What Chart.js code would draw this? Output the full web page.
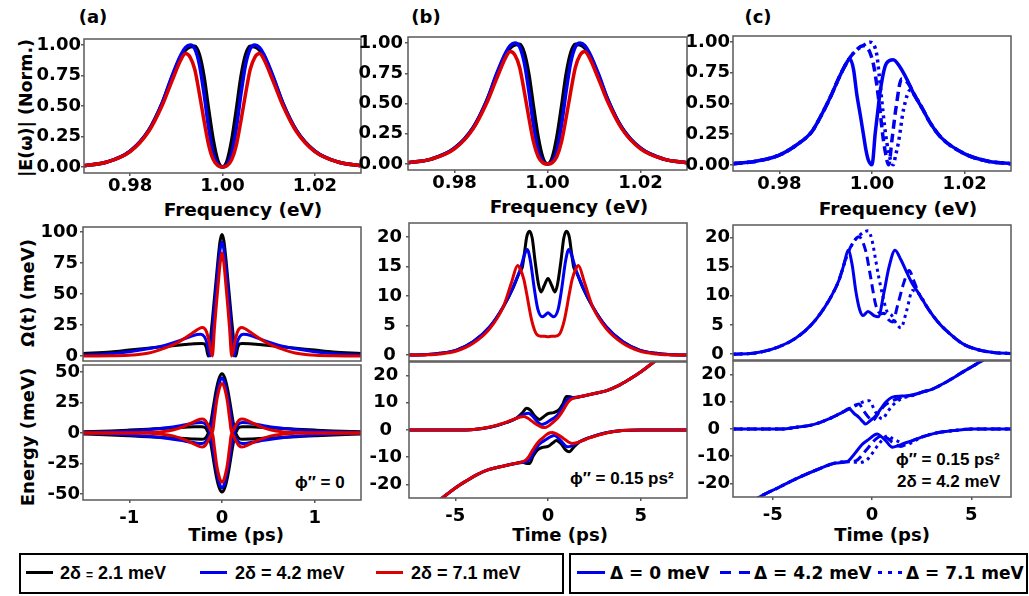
<!DOCTYPE html>
<html>
<head>
<meta charset="utf-8">
<script src="https://cdn.jsdelivr.net/npm/chart.js@4.4.0/dist/chart.umd.min.js"></script>
<style>
  body { margin: 0; background: #fff; }
  #page { position: relative; width: 1029px; height: 596px; overflow: hidden; background: #fff; }
  .box { position: absolute; }
  .lbl { position: absolute; font-family: 'DejaVu Sans', sans-serif; font-weight: bold; color: #000;
         white-space: nowrap; line-height: 1; transform: translate(-50%, -50%); }
  .rot { transform: translate(-50%, -50%) rotate(-90deg); }
  .note { position: absolute; font-family: 'Liberation Sans', Arial, sans-serif; font-weight: bold;
          font-size: 17px; color: #000; white-space: nowrap; line-height: 1; transform: translateY(-50%); }
  .leg { position: absolute; border: 2px solid #000; box-sizing: border-box; }
  .key { position: absolute; height: 0; }
  .dot { position: absolute; width: 4px; height: 3px; background: #0000f0; }
  .t1 { font-family: 'Liberation Sans', Arial, sans-serif; font-size: 18px; }
  .t2 { font-family: 'DejaVu Sans', sans-serif; font-size: 17px; }
</style>
</head>
<body>
<div id="page">
  <div class="lbl" style="left:93px;top:17px;font-size:18px">(a)</div>
  <div class="lbl" style="left:426px;top:17px;font-size:18px">(b)</div>
  <div class="lbl" style="left:758px;top:17px;font-size:18px">(c)</div>

  <div class="lbl rot" style="left:27px;top:108px;font-size:17.5px">|E(ω)| (Norm.)</div>
  <div class="lbl rot" style="left:28px;top:293px;font-size:18px">Ω(t) (meV)</div>
  <div class="lbl rot" style="left:28px;top:437px;font-size:18px">Energy (meV)</div>

  <div class="lbl" style="left:243px;top:210px;font-size:18.5px">Frequency (eV)</div>
  <div class="lbl" style="left:569px;top:207px;font-size:18.5px">Frequency (eV)</div>
  <div class="lbl" style="left:898px;top:209px;font-size:18.5px">Frequency (eV)</div>

  <div class="lbl" style="left:236px;top:535px;font-size:18px">Time (ps)</div>
  <div class="lbl" style="left:560px;top:535px;font-size:18px">Time (ps)</div>
  <div class="lbl" style="left:882px;top:535px;font-size:18px">Time (ps)</div>

  <div class="note" style="left:295px;top:482px">ϕ″ = 0</div>
  <div class="note" style="left:570px;top:478px">ϕ″ = 0.15 ps²</div>
  <div class="note" style="left:896px;top:459px">ϕ″ = 0.15 ps²</div>
  <div class="note" style="left:897px;top:481px">2δ = 4.2 meV</div>

  <div class="leg" style="left:19px;top:553px;width:545px;height:41px"></div>
  <div class="key" style="left:26px;top:571px;width:27px;border-top:3px solid #000"></div>
  <div class="note t1" style="left:60px;top:573px">2δ <span style="font-size:12px">=</span> 2.1 meV</div>
  <div class="key" style="left:200px;top:571px;width:27px;border-top:3px solid #0000f0"></div>
  <div class="note t1" style="left:235px;top:573px">2δ = 4.2 meV</div>
  <div class="key" style="left:376px;top:571px;width:27px;border-top:3px solid #dd0000"></div>
  <div class="note t1" style="left:411px;top:573px">2δ = 7.1 meV</div>

  <div class="leg" style="left:569px;top:553px;width:459px;height:41px"></div>
  <div class="key" style="left:577px;top:571px;width:28px;border-top:3px solid #0000f0"></div>
  <div class="note t2" style="left:610px;top:573px">Δ = 0 meV</div>
  <div class="key" style="left:720px;top:571px;width:11px;border-top:3px solid #0000f0"></div>
  <div class="key" style="left:739px;top:571px;width:11px;border-top:3px solid #0000f0"></div>
  <div class="note t2" style="left:754px;top:573px">Δ = 4.2 meV</div>
  <div class="dot" style="left:878px;top:571px"></div>
  <div class="dot" style="left:888px;top:571px"></div>
  <div class="dot" style="left:898px;top:571px"></div>
  <div class="note t2" style="left:906px;top:573px">Δ = 7.1 meV</div>
</div>
<script>
// tick positions
const freqTicks = [0.98, 1.00, 1.02];
const normTicks = [0, 0.25, 0.5, 0.75, 1.0];
const timeTicksA = [-1, 0, 1];
const timeTicksBC = [-5, 0, 5];
const omegaTicksA = [0, 25, 50, 75, 100];
const omegaTicksBC = [0, 5, 10, 15, 20];
const energyTicksA = [-50, -25, 0, 25, 50];
const energyTicksBC = [-20, -10, 0, 10, 20];

// |E(w)| spectra, panels (a) and (b)
const specFreq = [0.970, 0.975, 0.980, 0.984, 0.987, 0.989, 0.991, 0.992, 0.993, 0.994, 0.995, 0.996, 0.997, 0.998, 0.999, 1.000,
  1.001, 1.002, 1.003, 1.004, 1.005, 1.006, 1.007, 1.008, 1.009, 1.011, 1.013, 1.016, 1.020, 1.025, 1.030];
const specBlack = [0.01, 0.04, 0.13, 0.30, 0.53, 0.73, 0.91, 0.96, 0.985, 0.99, 0.92, 0.74, 0.47, 0.22, 0.05, 0.00,
  0.05, 0.22, 0.47, 0.74, 0.92, 0.99, 0.985, 0.96, 0.91, 0.73, 0.53, 0.30, 0.13, 0.04, 0.01];
const specBlue = [0.01, 0.04, 0.13, 0.30, 0.53, 0.74, 0.92, 0.98, 1.00, 0.97, 0.84, 0.60, 0.32, 0.11, 0.02, 0.00,
  0.02, 0.11, 0.32, 0.60, 0.84, 0.97, 1.00, 0.98, 0.92, 0.74, 0.53, 0.30, 0.13, 0.04, 0.01];
const specRed = [0.01, 0.04, 0.125, 0.29, 0.51, 0.70, 0.88, 0.93, 0.90, 0.80, 0.60, 0.38, 0.18, 0.06, 0.01, 0.00,
  0.01, 0.06, 0.18, 0.38, 0.60, 0.80, 0.90, 0.93, 0.88, 0.70, 0.51, 0.29, 0.125, 0.04, 0.01];

// |E(w)| spectra, panel (c)
const specSolidF = [0.970, 0.975, 0.980, 0.984, 0.987, 0.989, 0.991, 0.993, 0.9945, 0.9952, 0.996, 0.9967, 0.9975, 0.9981, 0.9987, 0.9992,
  1.000, 1.0007, 1.0012, 1.0017, 1.0028, 1.0038, 1.0046, 1.006, 1.0075, 1.009, 1.011, 1.0126, 1.015, 1.020, 1.025, 1.030];
const specSolid = [0.01, 0.03, 0.08, 0.17, 0.27, 0.40, 0.55, 0.72, 0.83, 0.865, 0.78, 0.58, 0.40, 0.26, 0.12, 0.04,
  0.00, 0.26, 0.42, 0.58, 0.80, 0.85, 0.857, 0.80, 0.70, 0.58, 0.45, 0.34, 0.22, 0.09, 0.03, 0.01];
const specDashF = [0.970, 0.975, 0.980, 0.984, 0.987, 0.989, 0.991, 0.993, 0.9945, 0.996, 0.9981, 0.9988, 0.9995, 1.0003, 1.001,
  1.0017, 1.0023, 1.0028, 1.0036, 1.0043, 1.0052, 1.0064, 1.0079, 1.009, 1.011, 1.0126, 1.015, 1.020, 1.025, 1.030];
const specDash = [0.01, 0.03, 0.08, 0.17, 0.27, 0.40, 0.55, 0.72, 0.83, 0.91, 0.97, 0.96, 0.92, 0.82, 0.66,
  0.45, 0.25, 0.12, 0.00, 0.20, 0.47, 0.70, 0.66, 0.58, 0.45, 0.34, 0.22, 0.09, 0.03, 0.01];
const specDotF = [0.970, 0.975, 0.980, 0.984, 0.987, 0.989, 0.991, 0.993, 0.9945, 0.996, 0.998, 0.9996, 1.001, 1.0015, 1.0021,
  1.0027, 1.0032, 1.004, 1.0046, 1.0051, 1.0057, 1.0068, 1.0083, 1.009, 1.011, 1.0126, 1.015, 1.020, 1.025, 1.030];
const specDot = [0.01, 0.03, 0.08, 0.17, 0.27, 0.40, 0.55, 0.72, 0.83, 0.91, 0.97, 1.00, 0.905, 0.75, 0.53,
  0.32, 0.18, 0.04, 0.00, 0.08, 0.18, 0.45, 0.61, 0.58, 0.45, 0.34, 0.22, 0.09, 0.03, 0.01];

// Rabi frequency, panel (a)
const omABlackT = [-1.5, -1.2, -1.0, -0.8, -0.6, -0.4, -0.3, -0.22, -0.19, -0.17, -0.148, -0.12, -0.1, -0.08, -0.06, -0.04, -0.02, 0,
  0.02, 0.04, 0.06, 0.08, 0.1, 0.12, 0.148, 0.17, 0.19, 0.22, 0.3, 0.4, 0.6, 0.8, 1.0, 1.2, 1.5];
const omABlack = [2.0, 3.3, 4.8, 6.3, 7.8, 9.3, 10.0, 10.2, 9.8, 7.0, 0, 17, 32, 48, 64, 80, 93, 98,
  93, 80, 64, 48, 32, 17, 0, 7.0, 9.8, 10.2, 10.0, 9.3, 7.8, 6.3, 4.8, 3.3, 2.0];
const omABlueT = [-1.5, -1.25, -1.0, -0.8, -0.6, -0.45, -0.35, -0.27, -0.23, -0.19, -0.16, -0.13, -0.1, -0.08, -0.06, -0.04, -0.02, 0,
  0.02, 0.04, 0.06, 0.08, 0.1, 0.13, 0.16, 0.19, 0.23, 0.27, 0.35, 0.45, 0.6, 0.8, 1.0, 1.25, 1.5];
const omABlue = [0.8, 1.7, 3.5, 5.8, 9.0, 12.5, 15.5, 17.3, 17.5, 15.5, 10, 0, 22, 40, 57, 73, 86, 92,
  86, 73, 57, 40, 22, 0, 10, 15.5, 17.5, 17.3, 15.5, 12.5, 9.0, 5.8, 3.5, 1.7, 0.8];
const omARedT = [-1.5, -1.2, -0.97, -0.79, -0.61, -0.5, -0.39, -0.3, -0.25, -0.21, -0.17, -0.14, -0.105, -0.08, -0.06, -0.04, -0.02, 0,
  0.02, 0.04, 0.06, 0.08, 0.105, 0.14, 0.17, 0.21, 0.25, 0.3, 0.39, 0.5, 0.61, 0.79, 0.97, 1.2, 1.5];
const omARed = [0, 0.2, 0.8, 2.4, 6.7, 10, 15, 19.5, 22, 23, 20, 12, 0, 24, 42, 59, 75, 83,
  75, 59, 42, 24, 0, 12, 20, 23, 22, 19.5, 15, 10, 6.7, 2.4, 0.8, 0.2, 0];

// dressed-state energies, panel (a)
const enABlackT = [-1.5, -1.2, -1.0, -0.8, -0.6, -0.4, -0.3, -0.22, -0.19, -0.17, -0.148, -0.12, -0.09, -0.06, -0.03, 0,
  0.03, 0.06, 0.09, 0.12, 0.148, 0.17, 0.19, 0.22, 0.3, 0.4, 0.6, 0.8, 1.0, 1.2, 1.5];
const enABlackUp = [0.9, 1.6, 2.3, 3.1, 3.9, 4.6, 5.0, 5.1, 4.8, 3.5, 0.5, 9, 23, 36, 45, 48.5,
  45, 36, 23, 9, 0.5, 3.5, 4.8, 5.1, 5.0, 4.6, 3.9, 3.1, 2.3, 1.6, 0.9];
const enABlackDn = [-0.9, -1.6, -2.3, -3.1, -3.9, -4.6, -5.0, -5.1, -4.8, -3.5, -0.5, -9, -23, -36, -45, -48.5,
  -45, -36, -23, -9, -0.5, -3.5, -4.8, -5.1, -5.0, -4.6, -3.9, -3.1, -2.3, -1.6, -0.9];
const enABlueT = [-1.5, -1.2, -1.0, -0.8, -0.6, -0.45, -0.35, -0.27, -0.22, -0.18, -0.15, -0.13, -0.1, -0.075, -0.05, -0.025, 0,
  0.025, 0.05, 0.075, 0.1, 0.13, 0.15, 0.18, 0.22, 0.27, 0.35, 0.45, 0.6, 0.8, 1.0, 1.2, 1.5];
const enABlueUp = [0.4, 0.9, 1.6, 2.7, 4.3, 6.0, 7.4, 8.4, 8.6, 7.5, 4.5, 0.5, 12, 24, 34, 42, 45,
  42, 34, 24, 12, 0.5, 4.5, 7.5, 8.6, 8.4, 7.4, 6.0, 4.3, 2.7, 1.6, 0.9, 0.4];
const enABlueDn = [-0.4, -0.9, -1.6, -2.7, -4.3, -6.0, -7.4, -8.4, -8.6, -7.5, -4.5, -0.5, -12, -24, -34, -42, -45,
  -42, -34, -24, -12, -0.5, -4.5, -7.5, -8.6, -8.4, -7.4, -6.0, -4.3, -2.7, -1.6, -0.9, -0.4];
const enARedT = [-1.5, -1.0, -0.8, -0.65, -0.53, -0.45, -0.39, -0.3, -0.24, -0.21, -0.18, -0.15, -0.125, -0.105, -0.08, -0.06, -0.04, -0.02, 0,
  0.02, 0.04, 0.06, 0.08, 0.105, 0.125, 0.15, 0.18, 0.21, 0.24, 0.3, 0.39, 0.45, 0.53, 0.65, 0.8, 1.0, 1.5];
const enARedUp = [0, 0, 0.3, 1.0, 2.4, 4.2, 6.0, 9.2, 11.2, 11.5, 10.2, 6.5, 2.5, 0.5, 13, 25, 33, 38.5, 40.5,
  38.5, 33, 25, 13, 0.5, 2.5, 6.5, 10.2, 11.5, 11.2, 9.2, 6.0, 4.2, 2.4, 1.0, 0.3, 0, 0];
const enARedDn = [0, 0, -0.3, -1.0, -2.4, -4.2, -6.0, -9.2, -11.2, -11.5, -10.2, -6.5, -2.5, -0.5, -13, -25, -33, -38.5, -40.5,
  -38.5, -33, -25, -13, -0.5, -2.5, -6.5, -10.2, -11.5, -11.2, -9.2, -6.0, -4.2, -2.4, -1.0, -0.3, 0, 0];

// Rabi frequency, panel (b)
const omBBlackT = [-7.5, -6.5, -5.84, -4.94, -4.04, -3.14, -2.41, -1.87, -1.6, -1.5, -1.38, -1.25, -1.15, -1.0, -0.85, -0.7, -0.52, -0.38, -0.2, 0,
  0.2, 0.38, 0.52, 0.7, 0.85, 1.0, 1.15, 1.25, 1.38, 1.5, 1.6, 1.87, 2.41, 3.14, 4.04, 4.94, 5.84, 6.5, 7.5];
const omBBlack = [0, 0.1, 0.3, 0.85, 2.25, 4.8, 8.2, 11.5, 13.6, 14.2, 15.0, 17.8, 20, 21, 19.8, 16, 12.1, 10.7, 11.8, 13,
  11.8, 10.7, 12.1, 16, 19.8, 21, 20, 17.8, 15.0, 14.2, 13.6, 11.5, 8.2, 4.8, 2.25, 0.85, 0.3, 0.1, 0];
const omBBlueT = [-7.5, -6.5, -5.84, -4.94, -4.04, -3.14, -2.41, -1.87, -1.5, -1.25, -1.12, -0.95, -0.75, -0.55, -0.3, -0.15, 0,
  0.15, 0.3, 0.55, 0.75, 0.95, 1.12, 1.25, 1.5, 1.87, 2.41, 3.14, 4.04, 4.94, 5.84, 6.5, 7.5];
const omBBlue = [0, 0.1, 0.3, 0.85, 2.25, 4.8, 8.2, 11.6, 14.5, 17.2, 17.9, 16.0, 11.5, 7.8, 6.5, 6.8, 7.2,
  6.8, 6.5, 7.8, 11.5, 16.0, 17.9, 17.2, 14.5, 11.6, 8.2, 4.8, 2.25, 0.85, 0.3, 0.1, 0];
const omBRedT = [-7.5, -6.5, -5.84, -4.94, -4.04, -3.14, -2.41, -1.96, -1.64, -1.5, -1.3, -1.15, -0.88, -0.61, -0.4, -0.2, 0,
  0.2, 0.4, 0.61, 0.88, 1.15, 1.3, 1.5, 1.64, 1.96, 2.41, 3.14, 4.04, 4.94, 5.84, 6.5, 7.5];
const omBRed = [0, 0.05, 0.2, 0.7, 2.0, 4.5, 8.2, 12.4, 15.2, 14.6, 12.8, 10.4, 5.9, 3.5, 3.2, 3.2, 3.1,
  3.2, 3.2, 3.5, 5.9, 10.4, 12.8, 14.6, 15.2, 12.4, 8.2, 4.5, 2.0, 0.7, 0.2, 0.05, 0];

// dressed-state energies, panel (b)
const enBBlackUpT = [-7.5, -5.0, -4.0, -3.14, -2.23, -1.69, -1.4, -1.15, -0.95, -0.7, -0.45, -0.25, 0, 0.3, 0.55, 0.8, 1.0, 1.2, 1.4, 1.7, 1.91,
  2.5, 3.17, 3.8, 4.43, 5.0, 5.69, 6.2];
const enBBlackUp = [0, 0, 0.2, 1.0, 2.8, 4.4, 6.2, 8.0, 7.3, 5.0, 3.9, 4.8, 6.0, 6.4, 7.2, 9.6, 12.3, 12.2, 11.8, 12.2, 12.5,
  13.4, 14.5, 16.3, 18.8, 21.3, 24.9, 27.6];
const enBBlackDnT = [-6.2, -5.69, -5.0, -4.43, -3.8, -3.17, -2.5, -1.91, -1.7, -1.4, -1.2, -1.0, -0.8, -0.55, -0.3, 0, 0.25, 0.45, 0.7, 0.95,
  1.15, 1.4, 1.69, 2.23, 3.14, 4.0, 5.0, 7.5];
const enBBlackDn = [-27.6, -24.9, -21.3, -18.8, -16.3, -14.5, -13.4, -12.5, -12.2, -11.8, -12.2, -12.3, -9.6, -7.2, -6.4, -6.0, -4.8, -3.9, -5.0, -7.3,
  -8.0, -6.2, -4.4, -2.8, -1.0, -0.2, 0, 0];
const enBBlueUpT = [-7.5, -5.0, -4.0, -3.14, -2.23, -1.69, -1.35, -1.05, -0.8, -0.5, -0.35, -0.15, 0.1, 0.3, 0.55, 0.8, 1.0, 1.2, 1.5, 1.91,
  2.5, 3.17, 3.8, 4.43, 5.0, 5.69, 6.2];
const enBBlueUp = [0, 0, 0.2, 1.0, 2.8, 4.4, 5.6, 6.2, 4.8, 2.6, 2.0, 2.4, 3.5, 4.3, 5.8, 8.5, 10.9, 11.8, 12.0, 12.5,
  13.4, 14.5, 16.3, 18.8, 21.3, 24.9, 27.6];
const enBBlueDnT = [-6.2, -5.69, -5.0, -4.43, -3.8, -3.17, -2.5, -1.91, -1.5, -1.2, -1.0, -0.8, -0.55, -0.3, -0.1, 0.15, 0.35, 0.5, 0.8, 1.05,
  1.35, 1.69, 2.23, 3.14, 4.0, 5.0, 7.5];
const enBBlueDn = [-27.6, -24.9, -21.3, -18.8, -16.3, -14.5, -13.4, -12.5, -12.0, -11.8, -10.9, -8.5, -5.8, -4.3, -3.5, -2.4, -2.0, -2.6, -4.8, -6.2,
  -5.6, -4.4, -2.8, -1.0, -0.2, 0, 0];
const enBRedUpT = [-7.5, -5.0, -4.0, -3.14, -2.6, -2.23, -1.9, -1.5, -1.3, -1.1, -0.8, -0.5, -0.25, -0.1, 0.1, 0.3, 0.5, 0.7, 0.9, 1.1,
  1.3, 1.6, 1.91, 2.5, 3.17, 3.8, 4.43, 5.0, 5.69, 6.2];
const enBRedUp = [0, 0, 0.2, 1.1, 2.1, 2.9, 3.8, 4.8, 5.0, 4.4, 2.9, 1.6, 0.9, 1.0, 1.8, 3.0, 4.2, 6.0, 8.2, 10.4,
  11.5, 12.1, 12.5, 13.4, 14.5, 16.3, 18.8, 21.3, 24.9, 27.6];
const enBRedDnT = [-6.2, -5.69, -5.0, -4.43, -3.8, -3.17, -2.5, -1.91, -1.6, -1.3, -1.1, -0.9, -0.7, -0.5, -0.3, -0.1, 0.1, 0.25, 0.5, 0.8,
  1.1, 1.3, 1.5, 1.9, 2.23, 2.6, 3.14, 4.0, 5.0, 7.5];
const enBRedDn = [-27.6, -24.9, -21.3, -18.8, -16.3, -14.5, -13.4, -12.5, -12.1, -11.5, -10.4, -8.2, -6.0, -4.2, -3.0, -1.8, -1.0, -0.9, -1.6, -2.9,
  -4.4, -5.0, -4.8, -3.8, -2.9, -2.1, -1.1, -0.2, 0, 0];

// Rabi frequency, panel (c)
const omCSolidT = [-7, -6, -5.54, -4.7, -3.86, -3.01, -2.17, -1.67, -1.4, -1.2, -1.0, -0.82, -0.62, -0.45, -0.2, 0.1, 0.32, 0.6, 0.85, 1.16,
  1.45, 1.75, 2.04, 2.37, 2.88, 3.3, 3.72, 4.56, 5.4, 6.2, 7];
const omCSolid = [0, 0.15, 0.4, 1.25, 2.7, 5.2, 9.2, 12.6, 15.5, 17.8, 15.3, 10.9, 7.6, 6.6, 7.3, 6.6, 6.4, 10.5, 14.8, 17.8,
  16.2, 14.0, 12.0, 10.3, 7.5, 5.6, 4.1, 1.8, 0.7, 0.25, 0.1];
const omCDashT = [-7, -6, -5.54, -4.7, -3.86, -3.01, -2.17, -1.67, -1.3, -1.0, -0.66, -0.32, -0.07, 0.19, 0.45, 0.6, 0.86, 1.03, 1.3, 1.6,
  1.87, 2.1, 2.37, 2.88, 3.3, 3.72, 4.56, 5.4, 6.2, 7];
const omCDash = [0, 0.15, 0.4, 1.25, 2.7, 5.2, 9.2, 12.6, 16.6, 18.8, 20.1, 17.7, 13.2, 8.4, 6.9, 7.0, 5.8, 5.5, 8.5, 12.2,
  14.3, 12.6, 10.3, 7.5, 5.6, 4.1, 1.8, 0.7, 0.25, 0.1];
const omCDotT = [-7, -6, -5.54, -4.7, -3.86, -3.01, -2.17, -1.67, -1.2, -0.9, -0.6, -0.35, -0.19, 0.0, 0.19, 0.35, 0.52, 0.77, 0.95, 1.2,
  1.45, 1.75, 2.04, 2.37, 2.88, 3.3, 3.72, 4.56, 5.4, 6.2, 7];
const omCDot = [0, 0.15, 0.4, 1.25, 2.7, 5.2, 9.2, 12.6, 17.4, 19.3, 20.4, 21.0, 21.1, 19.5, 16.0, 13.0, 10.3, 7.2, 6.8, 5.4,
  4.5, 7.5, 10.9, 10.3, 7.5, 5.6, 4.1, 1.8, 0.7, 0.25, 0.1];

// dressed-state energies, panel (c)
const enCSolidUpT = [-7, -4.5, -3.86, -3.01, -2.17, -1.5, -1.16, -0.9, -0.66, -0.45, -0.32, -0.1, 0.19, 0.45, 0.69, 1.03, 1.5, 2.04, 2.5, 3.05,
  3.72, 4.56, 5.57, 6.1];
const enCSolidUp = [0, 0, 0.6, 1.5, 3.7, 6.1, 7.4, 5.7, 4.3, 2.6, 1.8, 3.0, 4.9, 7.5, 9.8, 11.7, 12.1, 12.5, 13.5, 14.7,
  17.2, 20.9, 25.2, 27.5];
const enCSolidDnT = [-6.1, -5.54, -4.7, -3.86, -2.68, -1.84, -1.25, -1.03, -0.82, -0.5, -0.15, 0.1, 0.27, 0.5, 0.69, 1.03, 1.3, 1.6, 2.04, 2.5,
  3.05, 3.5, 4.06, 5.07, 7];
const enCSolidDn = [-27.0, -24.5, -21.5, -18.4, -14.7, -12.5, -12.0, -10.5, -8.6, -5.7, -3.7, -2.3, -1.8, -3.0, -4.3, -6.7, -6.2, -5.3, -4.3, -3.0,
  -1.8, -1.1, -0.6, 0, 0];
const enCDashUpT = [-7, -4.5, -3.86, -3.01, -2.17, -1.5, -1.16, -0.9, -0.66, -0.45, -0.24, 0.02, 0.35, 0.6, 0.86, 1.36, 2.04, 2.5, 3.05, 3.72,
  4.56, 5.57, 6.1];
const enCDashUp = [0, 0, 0.6, 1.5, 3.7, 6.1, 7.4, 8.6, 9.2, 7.0, 4.9, 3.1, 6.1, 8.4, 9.8, 11.3, 12.5, 13.5, 14.7, 17.2,
  20.9, 25.2, 27.5];
const enCDashDnT = [-6.1, -5.54, -4.7, -3.86, -2.68, -1.84, -1.25, -0.82, -0.32, 0.19, 0.52, 0.8, 1.03, 1.45, 1.75, 2.04, 2.5, 3.05, 3.5, 4.06,
  5.07, 7];
const enCDashDn = [-27.0, -24.5, -21.5, -18.4, -14.7, -12.5, -12.0, -11.7, -8.0, -3.7, -2.5, -3.5, -4.9, -6.4, -5.5, -4.3, -3.0, -1.8, -1.1, -0.6,
  0, 0];
const enCDotUpT = [-7, -4.5, -3.86, -3.01, -2.17, -1.5, -1.16, -0.9, -0.5, -0.15, 0.19, 0.52, 0.8, 1.03, 1.4, 1.7, 2.2, 2.5, 3.05, 3.72,
  4.56, 5.57, 6.1];
const enCDotUp = [0, 0, 0.6, 1.5, 3.7, 6.1, 7.4, 8.3, 9.8, 10.4, 6.1, 3.7, 6.5, 8.6, 10.8, 11.7, 12.6, 13.5, 14.7, 17.2,
  20.9, 25.2, 27.5];
const enCDotDnT = [-6.1, -5.54, -4.7, -3.86, -2.68, -1.84, -1.25, -0.66, -0.3, -0.07, 0.35, 0.77, 1.05, 1.36, 1.7, 2.0, 2.4, 3.05, 3.5, 4.06,
  5.07, 7];
const enCDotDn = [-27.0, -24.5, -21.5, -18.4, -14.7, -12.5, -12.0, -12.3, -11.6, -9.8, -5.5, -2.5, -3.6, -4.7, -5.9, -5.0, -3.3, -1.8, -1.1, -0.6,
  0, 0];

const BLACK = '#000000';
const BLUE = '#0000f0';
const RED = '#dd0000';
const DASH = [9, 5];
const DOT = [3, 4];

const pts = (xs, ys) => xs.map((x, i) => ({ x: x, y: ys[i] }));

const curve = (xs, ys, color, order, dash, width) => ({
  data: pts(xs, ys),
  borderColor: color,
  borderWidth: width || 3,
  borderDash: dash || [],
  borderCapStyle: 'butt',
  pointRadius: 0,
  cubicInterpolationMode: 'monotone',
  fill: false,
  clip: 0,
  order: order
});

// grey box round each plot area
const frame = {
  id: 'frame',
  afterDraw(chart) {
    const { ctx, chartArea: a } = chart;
    ctx.save();
    ctx.strokeStyle = '#5a5a5a';
    ctx.lineWidth = 1.5;
    ctx.strokeRect(a.left, a.top, a.right - a.left, a.bottom - a.top);
    ctx.restore();
  }
};

const tickFont = { family: 'DejaVu Sans', weight: 'bold', size: 18 };
const fixed2 = (v) => Number(v).toFixed(2);
const plain = (v) => String(v);

function panel(p) {
  const [L, T, R, B] = p.box;
  const xh = p.xTicks ? p.xh : 2;
  const w = R - L + 90;
  const h = B - T + 10 + xh;

  const div = document.createElement('div');
  div.className = 'box';
  div.style.left = (L - 80) + 'px';
  div.style.top = (T - 10) + 'px';
  const canvas = document.createElement('canvas');
  canvas.width = w;
  canvas.height = h;
  div.appendChild(canvas);
  document.getElementById('page').appendChild(div);

  new Chart(canvas.getContext('2d'), {
    type: 'line',
    data: { datasets: p.datasets },
    options: {
      responsive: false,
      animation: false,
      events: [],
      layout: { padding: { left: 0, top: 10, right: 10, bottom: 0 } },
      plugins: { legend: { display: false }, tooltip: { enabled: false } },
      scales: {
        x: {
          type: 'linear',
          min: p.xRange[0],
          max: p.xRange[1],
          afterBuildTicks: (s) => { s.ticks = (p.xTicks || []).map((v) => ({ value: v })); },
          afterFit: (s) => { s.height = xh; s.paddingLeft = 0; s.paddingRight = 0; },
          grid: { display: !!p.xTicks, drawOnChartArea: false, tickLength: 3, color: '#5a5a5a', lineWidth: 1.5 },
          border: { display: false },
          ticks: {
            display: !!p.xTicks, autoSkip: false, maxRotation: 0, padding: p.xPad || 0,
            color: '#000', font: tickFont, callback: (v) => p.xFmt(v)
          }
        },
        y: {
          type: 'linear',
          min: p.yRange[0],
          max: p.yRange[1],
          afterBuildTicks: (s) => { s.ticks = p.yTicks.map((v) => ({ value: v })); },
          afterFit: (s) => { s.width = 80; s.paddingTop = 0; s.paddingBottom = 0; },
          grid: { drawOnChartArea: false, tickLength: 3, color: '#5a5a5a', lineWidth: 1.5 },
          border: { display: false },
          ticks: {
            autoSkip: false, padding: p.yPad, crossAlign: p.cross || 'near',
            color: '#000', font: tickFont, callback: (v) => p.yFmt(v)
          }
        }
      }
    },
    plugins: [frame]
  });
}

const specSets = () => [
  curve(specFreq, specBlack, BLACK, 3, null, 3.5),
  curve(specFreq, specBlue, BLUE, 2, null, 3.5),
  curve(specFreq, specRed, RED, 1, null, 3.5)
];

// top row: spectra
panel({ box: [84, 39, 361, 173], xRange: [0.97, 1.03], yRange: [-0.05, 1.05], xTicks: freqTicks, yTicks: normTicks,
  xFmt: fixed2, yFmt: fixed2, xh: 30, xPad: 0, yPad: 0, datasets: specSets() });
panel({ box: [408, 37, 687, 170], xRange: [0.97, 1.03], yRange: [-0.05, 1.05], xTicks: freqTicks, yTicks: normTicks,
  xFmt: fixed2, yFmt: fixed2, xh: 30, xPad: 0, yPad: 2, datasets: specSets() });
panel({ box: [733, 36, 1011, 171], xRange: [0.97, 1.03], yRange: [-0.05, 1.05], xTicks: freqTicks, yTicks: normTicks,
  xFmt: fixed2, yFmt: fixed2, xh: 30, xPad: 0, yPad: 0, datasets: [
    curve(specDotF, specDot, BLUE, 3, DOT, 3.5),
    curve(specDashF, specDash, BLUE, 2, DASH, 3.5),
    curve(specSolidF, specSolid, BLUE, 1, null, 3.5)
  ] });

// middle row: Rabi frequency
panel({ box: [83, 227, 361, 361], xRange: [-1.5, 1.5], yRange: [-4, 104], yTicks: omegaTicksA,
  yFmt: plain, yPad: 2, datasets: [
    curve(omABlackT, omABlack, BLACK, 3),
    curve(omABlueT, omABlue, BLUE, 2),
    curve(omARedT, omARed, RED, 1)
  ] });
panel({ box: [409, 223, 687, 361], xRange: [-7.5, 7.5], yRange: [-1.0, 22.4], yTicks: omegaTicksBC,
  yFmt: plain, yPad: 4, cross: 'center', datasets: [
    curve(omBBlackT, omBBlack, BLACK, 3),
    curve(omBBlueT, omBBlue, BLUE, 2),
    curve(omBRedT, omBRed, RED, 1)
  ] });
panel({ box: [733, 225, 1011, 360], xRange: [-7, 7], yRange: [-1.0, 22.1], yTicks: omegaTicksBC,
  yFmt: plain, yPad: 0, cross: 'center', datasets: [
    curve(omCDotT, omCDot, BLUE, 3, DOT),
    curve(omCDashT, omCDash, BLUE, 2, DASH),
    curve(omCSolidT, omCSolid, BLUE, 1)
  ] });

// bottom row: dressed-state energies
panel({ box: [83, 365, 361, 500], xRange: [-1.5, 1.5], yRange: [-55, 55.7], xTicks: timeTicksA, yTicks: energyTicksA,
  xFmt: plain, yFmt: plain, xh: 34, xPad: 5, yPad: 0, datasets: [
    curve(enABlackT, enABlackUp, BLACK, 3),
    curve(enABlackT, enABlackDn, BLACK, 3),
    curve(enABlueT, enABlueUp, BLUE, 2),
    curve(enABlueT, enABlueDn, BLUE, 2),
    curve(enARedT, enARedUp, RED, 1),
    curve(enARedT, enARedDn, RED, 1)
  ] });
panel({ box: [409, 362, 687, 498], xRange: [-7.5, 7.5], yRange: [-25, 25], xTicks: timeTicksBC, yTicks: energyTicksBC,
  xFmt: plain, yFmt: plain, xh: 34, xPad: 5, yPad: 4, cross: 'center', datasets: [
    curve(enBBlackUpT, enBBlackUp, BLACK, 3),
    curve(enBBlackDnT, enBBlackDn, BLACK, 3),
    curve(enBBlueUpT, enBBlueUp, BLUE, 2),
    curve(enBBlueDnT, enBBlueDn, BLUE, 2),
    curve(enBRedUpT, enBRedUp, RED, 1),
    curve(enBRedDnT, enBRedDn, RED, 1)
  ] });
panel({ box: [733, 361, 1011, 497], xRange: [-7, 7], yRange: [-25, 25], xTicks: timeTicksBC, yTicks: energyTicksBC,
  xFmt: plain, yFmt: plain, xh: 34, xPad: 5, yPad: 0, cross: 'center', datasets: [
    curve(enCDotUpT, enCDotUp, BLUE, 3, DOT),
    curve(enCDotDnT, enCDotDn, BLUE, 3, DOT),
    curve(enCDashUpT, enCDashUp, BLUE, 2, DASH),
    curve(enCDashDnT, enCDashDn, BLUE, 2, DASH),
    curve(enCSolidUpT, enCSolidUp, BLUE, 1),
    curve(enCSolidDnT, enCSolidDn, BLUE, 1)
  ] });
</script>
</body>
</html>
